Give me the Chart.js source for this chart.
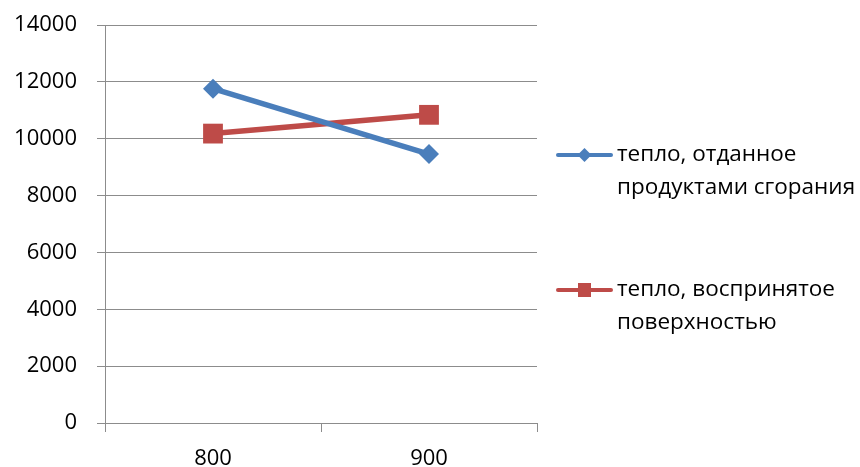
<!DOCTYPE html>
<html>
<head>
<meta charset="utf-8">
<script src="https://cdn.jsdelivr.net/npm/chart.js@4"></script>
<style>
  html, body { margin: 0; padding: 0; background: #fff; }
  #wrap { width: 860px; height: 467px; position: relative; }
</style>
</head>
<body>
<div id="wrap"><canvas id="c" width="860" height="467"></canvas></div>
<script>
// Categories (temperature) and the two heat series
const categories = ['800', '900'];
const heatGiven = [11760, 9460];      // тепло, отданное продуктами сгорания
const heatReceived = [10180, 10840];  // тепло, воспринятое поверхностью
const seriesNames = [
  ['тепло, отданное', 'продуктами сгорания'],
  ['тепло, воспринятое', 'поверхностью']
];
const yTicks = [0, 2000, 4000, 6000, 8000, 10000, 12000, 14000];

const FONT = "'Open Sans', 'Liberation Sans', sans-serif";
const BLUE = '#4A7EBB';
const RED = '#BE4B48';
const GRID = '#8C8C8C';

// Legend drawn at the right: short line with the series marker, wrapped text
const sideLegend = {
  id: 'sideLegend',
  afterDraw(chart, args, opts) {
    const ctx = chart.ctx;
    ctx.save();
    let size = opts.fontSize;
    ctx.font = size + 'px ' + FONT;
    const maxW = chart.width - opts.textX - 1;
    chart.data.datasets.forEach(ds => {
      ds.label.forEach(line => {
        while (ctx.measureText(line).width > maxW && size > 10) {
          size -= 0.5;
          ctx.font = size + 'px ' + FONT;
        }
      });
    });
    chart.data.datasets.forEach((ds, i) => {
      const y = opts.rows[i];
      ctx.strokeStyle = ds.borderColor;
      ctx.lineWidth = 4;
      ctx.lineCap = 'round';
      ctx.beginPath();
      ctx.moveTo(opts.lineX0, y);
      ctx.lineTo(opts.lineX1, y);
      ctx.stroke();
      const mx = (opts.lineX0 + opts.lineX1) / 2;
      ctx.fillStyle = ds.borderColor;
      ctx.beginPath();
      if (ds.pointStyle === 'rect') {
        ctx.rect(mx - 6.5, y - 7, 13, 14);
      } else {
        ctx.moveTo(mx, y - 7); ctx.lineTo(mx + 7, y); ctx.lineTo(mx, y + 7); ctx.lineTo(mx - 7, y);
        ctx.closePath();
      }
      ctx.fill();
      ctx.fillStyle = '#000';
      ctx.textBaseline = 'middle';
      ctx.textAlign = 'left';
      ds.label.forEach((line, k) => {
        ctx.fillText(line, opts.textX, y + k * opts.lineGap);
      });
    });
    ctx.restore();
  }
};

new Chart(document.getElementById('c'), {
  type: 'line',
  data: {
    labels: categories,
    datasets: [
      {
        label: seriesNames[0],
        data: heatGiven,
        borderColor: BLUE,
        backgroundColor: BLUE,
        borderWidth: 5.5,
        pointStyle: 'rectRot',
        pointRadius: 10,
        pointHoverRadius: 10,
        pointBorderWidth: 0,
        tension: 0
      },
      {
        label: seriesNames[1],
        data: heatReceived,
        borderColor: RED,
        backgroundColor: RED,
        borderWidth: 5.5,
        pointStyle: 'rect',
        pointRadius: 14,
        pointHoverRadius: 14,
        pointBorderWidth: 0,
        tension: 0
      }
    ]
  },
  options: {
    responsive: false,
    animation: false,
    layout: { padding: { top: 25, right: 323, bottom: 0, left: 0 } },
    plugins: {
      legend: { display: false },
      tooltip: { enabled: false },
      sideLegend: {
        lineX0: 558, lineX1: 611, textX: 617,
        rows: [155, 290], lineGap: 33, fontSize: 23
      }
    },
    scales: {
      x: {
        type: 'category',
        offset: true,
        grid: {
          offset: true,
          drawOnChartArea: false,
          drawTicks: true,
          tickLength: 9,
          color: GRID,
          lineWidth: 1
        },
        border: { display: true, color: GRID, width: 1 },
        ticks: {
          color: '#000',
          padding: 16,
          font: { family: FONT, size: 22, lineHeight: 1.0 }
        },
        afterFit(scale) { scale.height = 44; }
      },
      y: {
        min: 0,
        max: 14000,
        afterBuildTicks(scale) { scale.ticks = yTicks.map(v => ({ value: v })); },
        grid: {
          color: GRID,
          lineWidth: 1,
          tickLength: 8
        },
        border: { display: true, color: GRID, width: 1 },
        ticks: {
          color: '#000',
          padding: 20,
          font: { family: FONT, size: 22 },
          callback: v => String(v)
        },
        afterFit(scale) {
          scale.width = 105;
          scale.paddingTop = 0;
          scale.paddingBottom = 0;
        }
      }
    }
  },
  plugins: [sideLegend]
});
</script>
</body>
</html>
